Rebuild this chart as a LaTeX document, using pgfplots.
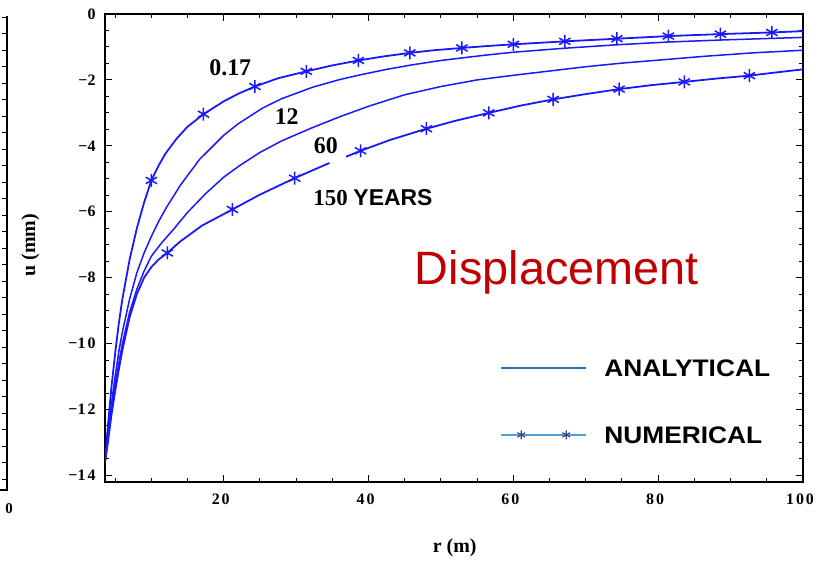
\documentclass[border=0pt]{standalone}
\usepackage{fontspec}
\setmainfont{Liberation Serif}
\setsansfont{Liberation Sans}
\usepackage{pgfplots}
\pgfplotsset{compat=1.18}
\usepackage{pgfplotstable}
\definecolor{curve}{RGB}{25,25,250}
\definecolor{legA}{RGB}{46,110,170}
\definecolor{legN}{RGB}{75,160,220}
\definecolor{legStar}{RGB}{70,60,130}
\definecolor{dispred}{RGB}{192,0,0}

\pgfplotstableread{
r u
3.6 -13.6
4.0 -12.5
4.5 -11.3
5.0 -10.3
5.5 -9.4
6.0 -8.65
7.0 -7.45
8.0 -6.5
9.0 -5.72
10.0 -5.05
11.0 -4.6
12.0 -4.22
13.5 -3.78
15.0 -3.42
17.2 -3.04
20.0 -2.65
22.0 -2.42
24.3 -2.2
27.5 -1.95
31.4 -1.74
35.0 -1.56
38.6 -1.41
42.0 -1.29
45.7 -1.18
49.0 -1.10
52.9 -1.03
56.5 -0.97
60.0 -0.92
67.1 -0.83
74.3 -0.75
81.4 -0.67
88.6 -0.61
95.7 -0.56
100 -0.52
}\curveA

\pgfplotstableread{
r u
3.6 -13.6
4.0 -12.8
4.5 -11.8
5.0 -11.0
5.5 -10.25
6.0 -9.65
7.0 -8.65
8.0 -7.85
9.0 -7.25
10.0 -6.75
11.0 -6.3
12.0 -5.9
13.0 -5.55
14.0 -5.2
15.0 -4.9
16.7 -4.4
18.0 -4.12
20.0 -3.68
22.0 -3.33
25.4 -2.85
28.0 -2.57
32.3 -2.22
36.0 -1.99
39.2 -1.83
42.5 -1.68
46.1 -1.54
50.0 -1.41
53.0 -1.33
56.5 -1.24
60.0 -1.16
67.0 -1.04
74.6 -0.93
81.4 -0.85
88.6 -0.79
95.7 -0.74
100 -0.71
}\curveB

\pgfplotstableread{
r u
3.6 -13.6
4.0 -12.9
4.5 -12.0
5.0 -11.25
5.5 -10.6
6.0 -10.0
7.0 -9.05
8.0 -8.35
9.0 -7.8
10.0 -7.35
11.4 -6.95
13.0 -6.55
15.0 -6.02
17.5 -5.45
20.0 -4.95
22.2 -4.6
25.0 -4.2
28.0 -3.85
32.0 -3.47
36.0 -3.12
40.0 -2.8
45.0 -2.45
50.0 -2.2
55.0 -2.0
60.0 -1.86
65.0 -1.73
70.0 -1.6
75.0 -1.49
80.0 -1.4
86.6 -1.28
93.0 -1.18
100 -1.10
}\curveC

\pgfplotstableread{
r u
3.6 -13.6
4.0 -13.0
4.5 -12.15
5.0 -11.45
5.5 -10.8
6.0 -10.2
7.0 -9.2
8.0 -8.5
9.0 -8.0
10.0 -7.68
11.0 -7.45
12.2 -7.25
14.0 -6.9
17.0 -6.42
21.2 -5.93
25.0 -5.48
29.8 -4.98
34.6 -4.52
35.7 nan
36.9 -4.33
38.9 -4.15
43.0 -3.82
48.0 -3.48
52.0 -3.24
56.6 -3.0
61.0 -2.78
65.5 -2.59
70.0 -2.43
74.6 -2.28
79.0 -2.16
83.6 -2.06
88.0 -1.96
92.6 -1.87
96.0 -1.78
100 -1.68
}\curveD

\pgfplotstableread{
r u
10.0 -5.05
17.2 -3.04
24.3 -2.2
31.4 -1.74
38.6 -1.41
45.7 -1.18
52.9 -1.03
60.0 -0.92
67.1 -0.83
74.3 -0.75
81.4 -0.67
88.6 -0.61
95.7 -0.56
}\starsA

\pgfplotstableread{
r u
12.2 -7.25
21.2 -5.93
29.8 -4.98
38.9 -4.15
48.0 -3.48
56.6 -3.0
65.5 -2.59
74.6 -2.28
83.6 -2.06
92.6 -1.87
}\starsD

\begin{document}
\begin{tikzpicture}
\useasboundingbox (0bp,0bp) rectangle (822bp,562bp);
% remnant of neighbouring chart frame
\draw[line width=1.3bp] (0bp,72bp) -- (7bp,72bp) -- (7bp,546bp);
\foreach \k in {0,...,28} {\draw[line width=0.9bp] (7bp,{(545-\k*16.5)*1bp}) -- (2bp,{(545-\k*16.5)*1bp});}
\node[font=\bfseries\fontsize{15}{15}\selectfont] at (9bp,53bp) {0};

\begin{axis}[
  at={(105bp,80bp)}, anchor=south west, scale only axis,
  width=698bp, height=468bp,
  xmin=3.6, xmax=100, ymin=-14.2, ymax=0,
  axis line style={line width=1.4bp},
  tick align=inside,
  major tick length=7bp, minor tick length=4bp,
  every tick/.style={black, line width=1bp},
  xtick={20,40,60,80,100},
  xticklabels={2\kern2bp0,4\kern2bp0,6\kern2bp0,8\kern2bp0,1\kern2bp0\kern2bp0},
  minor xtick={5,10,...,95},
  ytick={-14,-12,-10,-8,-6,-4,-2,0},
  yticklabels={−1\kern2bp4,−1\kern2bp2,−1\kern2bp0,−8,−6,−4,−2,0},
  minor ytick={-13.5,-13,...,-0.5},
  tick label style={font=\bfseries\fontsize{16}{16}\selectfont},
  xticklabel style={yshift=-8bp, xshift=-3bp},
  yticklabel style={xshift=-6bp},
  xlabel={r (m)},
  ylabel={u (mm)},
  label style={font=\bfseries\fontsize{20}{20}\selectfont},
  x label style={at={(axis description cs:0.501,-0.141)}, anchor=center},
  y label style={at={(axis description cs:-0.107,0.506)}, anchor=center},
  unbounded coords=jump,
  legend style={at={(axis description cs:0.566,0.262)}, anchor=north west,
    draw=none, fill=none, inner sep=0pt,
    font=\sffamily\bfseries\fontsize{24}{24}\selectfont,
    row sep=49bp, nodes={inner sep=0pt}},
  legend cell align=left,
]
\addplot[curve, line width=1.8bp, no marks, forget plot] table {\curveA};
\addplot[curve, line width=1.5bp, no marks, forget plot] table {\curveB};
\addplot[curve, line width=1.5bp, no marks, forget plot] table {\curveC};
\addplot[curve, line width=1.8bp, no marks, forget plot] table {\curveD};
\addplot[curve, only marks, mark=asterisk, mark size=6.5bp, mark options={line width=1.5bp}, forget plot] table {\starsA};
\addplot[curve, only marks, mark=asterisk, mark size=6.5bp, mark options={line width=1.5bp}, forget plot] table {\starsD};

\addlegendimage{legend image code/.code={
  \draw[legA, line width=2bp] (0bp,1bp) -- (85bp,1bp);
  \path (0bp,0bp) (103bp,0bp);}}
\addlegendentry{\scalebox{1.1}[1]{ANALYTICAL}}
\addlegendimage{legend image code/.code={
  \draw[legN, line width=2bp] (0bp,1bp) -- (85bp,1bp);
  \draw[legStar, line width=1.1bp, mark=asterisk, mark size=4.5bp, only marks, mark indices={2,3}] plot coordinates {(0bp,1bp) (20bp,1bp) (65bp,1bp) (85bp,1bp)};
  \path (0bp,0bp) (103bp,0bp);}}
\addlegendentry{\scalebox{1.1}[1]{NUMERICAL}}

\node[font=\bfseries\fontsize{24}{24}\selectfont] at (axis cs:20.9,-1.64) {0.17};
\node[font=\bfseries\fontsize{24}{24}\selectfont] at (axis cs:28.7,-3.12) {12};
\node[font=\bfseries\fontsize{24}{24}\selectfont] at (axis cs:34.1,-4.0) {60};
\node[font=\bfseries\fontsize{23}{23}\selectfont] at (axis cs:40.6,-5.58) {150 \sffamily YEARS};
\node[font=\sffamily\fontsize{47}{47}\selectfont, text=dispred] at (axis cs:66.0,-7.83) {Displacement};
\end{axis}
\end{tikzpicture}
\end{document}
